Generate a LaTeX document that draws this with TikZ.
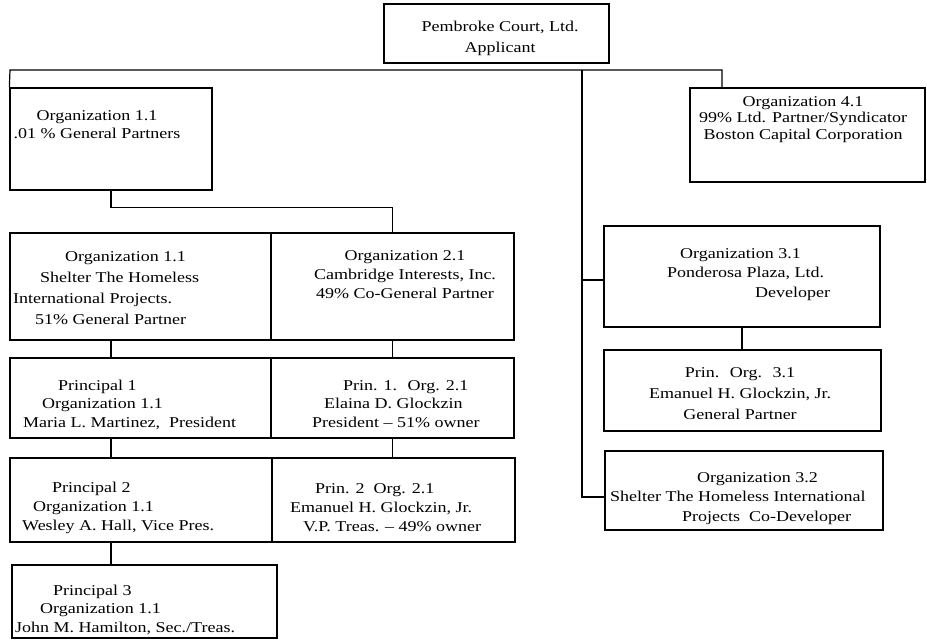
\documentclass[tikz,border=0pt]{standalone}
\usepackage{fontspec}
\setmainfont{Liberation Serif}[FakeStretch=1.2]
\usetikzlibrary{fit}
\begin{document}
\begin{tikzpicture}[x=1pt,y=-1pt,
  box/.style={draw, line width=1.3pt, inner sep=0pt},
  wire/.style={draw, line width=1.2pt},
  txt/.style={inner sep=0pt, font=\fontsize{15}{#1}\selectfont}]
\useasboundingbox (0,0) rectangle (927,643);

% ---- boxes ----
\node[box, fit={(384,4) (609,63)}]    (top)   {};
\node[box, fit={(10,88) (212,190)}]   (gp)    {};
\node[box, fit={(690,88) (925,182)}]  (o41)   {};
\node[box, fit={(10,233) (271,340)}]  (sth)   {};
\node[box, fit={(271,233) (514,340)}] (o21)   {};
\node[box, fit={(10,358) (271,438)}]  (p1)    {};
\node[box, fit={(271,358) (514,438)}] (p1o21) {};
\node[box, fit={(10,458) (272,542)}]  (p2)    {};
\node[box, fit={(272,458) (515,542)}] (p2o21) {};
\node[box, fit={(12,565) (277,638)}]  (p3)    {};
\node[box, fit={(604,226) (880,327)}] (o31)   {};
\node[box, fit={(604,350) (881,431)}] (po31)  {};
\node[box, fit={(605,451) (883,530)}] (o32)   {};

% ---- texts ----
\node[txt=21, anchor=north, align=center] (ttop) at (500,16.3)
  {\strut Pembroke Court, Ltd.\\\strut Applicant};
\node[txt=18, anchor=north, align=center] (tgp) at (97,107.4)
  {\strut Organization 1.1\\\strut .01 \% General Partners};
\node[txt=16.5, anchor=north, align=center] (to41) at (803,94.5)
  {\strut Organization 4.1\\\strut 99\% Ltd. Partner/Syndicator\\\strut Boston Capital Corporation};
\node[txt=21, anchor=north west, align=left] (tsth) at (13,246.3)
  {\strut\hspace*{52pt}Organization 1.1\\\strut\hspace*{27pt}Shelter The Homeless\\\strut International Projects.\\\strut\hspace*{22pt}51\% General Partner};
\node[txt=19, anchor=north, align=center] (to21) at (405,246.7)
  {\strut Organization 2.1\\\strut Cambridge Interests, Inc.\\\strut 49\% Co-General Partner};
\node[txt=18.5, anchor=north west, align=left] (tp1) at (23,377)
  {\strut\hspace*{35pt}Principal 1\\\strut\hspace*{19pt}Organization 1.1\\\strut Maria L. Martinez,~ President};
\node[txt=18.5, anchor=north west, align=left] (tp1o21) at (312,377)
  {\strut\hspace*{31pt}Prin. 1.~ Org. 2.1\\\strut\hspace*{12pt}Elaina D. Glockzin\\\strut President -- 51\% owner};
\node[txt=19, anchor=north west, align=left] (tp2) at (22,478.7)
  {\strut\hspace*{30pt}Principal 2\\\strut\hspace*{11pt}Organization 1.1\\\strut Wesley A. Hall, Vice Pres.};
\node[txt=19, anchor=north west, align=left] (tp2o21) at (290,479.7)
  {\strut\hspace*{25pt}Prin. 2~ Org. 2.1\\\strut Emanuel H. Glockzin, Jr.\\\strut\hspace*{13pt}V.P. Treas. -- 49\% owner};
\node[txt=18.5, anchor=north west, align=left] (tp3) at (15,582)
  {\strut\hspace*{38pt}Principal 3\\\strut\hspace*{25pt}Organization 1.1\\\strut John M. Hamilton, Sec./Treas.};
\node[txt=19.5, anchor=north west, align=left] (to31) at (667,244.4)
  {\strut\hspace*{13pt}Organization 3.1\\\strut Ponderosa Plaza, Ltd.\\\strut\hspace*{88pt}Developer};
\node[txt=21, anchor=north, align=center] (tpo31) at (740,362.3)
  {\strut Prin.~ Org.~ 3.1\\\strut Emanuel H. Glockzin, Jr.\\\strut General Partner};
\node[txt=19.5, anchor=north west, align=left] (to32) at (610,468.4)
  {\strut\hspace*{87pt}Organization 3.2\\\strut Shelter The Homeless International\\\strut\hspace*{72pt}Projects~ Co-Developer};

% ---- connectors ----
\coordinate (busL)  at (10,70);
\coordinate (busR)  at (722,70);
\coordinate (busT)  at (582,70);
\coordinate (tap31) at (582,280);
\coordinate (tap32) at (582,497);

\draw[wire] (gp.north west) -- (busL) -- (busR) -- (busR |- o41.north);
\draw[wire] (busT) -- (tap32) -- (tap32 -| o32.west);
\draw[wire] (tap31) -- (tap31 -| o31.west);
\draw[wire] (o31.south) -- (o31.south |- po31.north);

\draw[wire] (gp.south) -- ++(0,17) -| (o21.north);
\draw[wire] (sth.south -| gp.south) -- (p1.north -| gp.south);
\draw[wire] (o21.south) -- (p1o21.north);
\draw[wire] (p1.south -| gp.south) -- (p2.north -| gp.south);
\draw[wire] (p1o21.south) -- (p1o21.south |- p2o21.north);
\draw[wire] (p2.south -| gp.south) -- (p3.north -| gp.south);
\end{tikzpicture}
\end{document}
